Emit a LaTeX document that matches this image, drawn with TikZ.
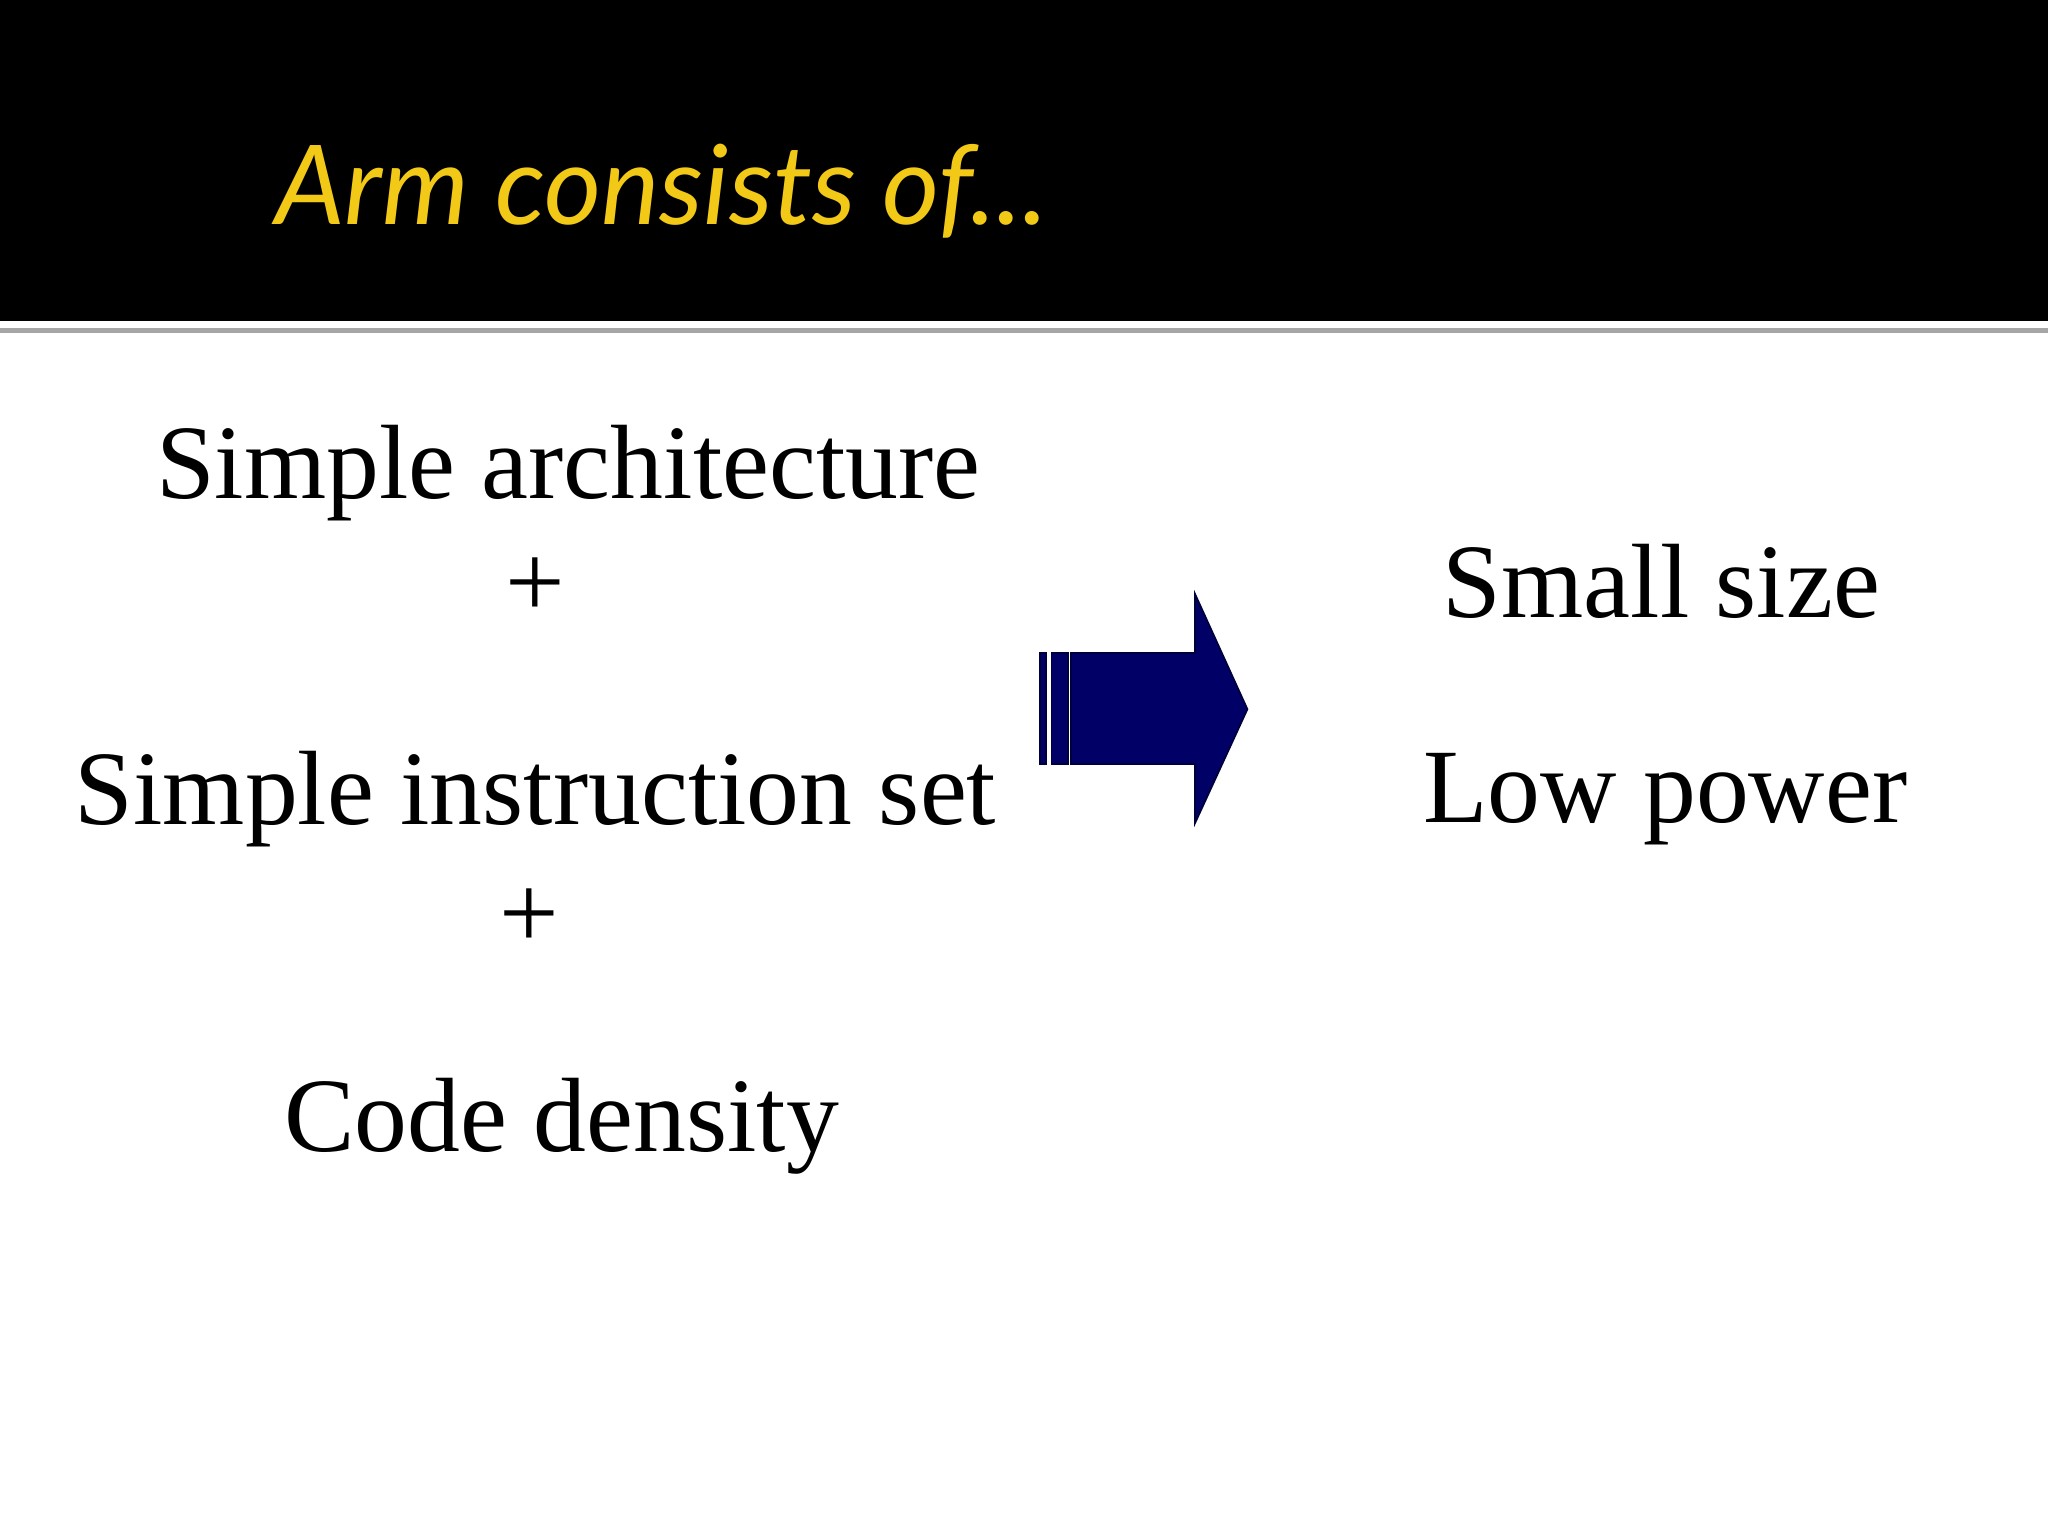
\documentclass[tikz,border=0pt]{standalone}
\usepackage{fontspec}
\setmainfont{Liberation Serif}
\newfontfamily\titlefont{Lato}
\definecolor{navyarrow}{HTML}{000066}
\definecolor{titleyellow}{HTML}{F2C916}
\begin{document}
\begin{tikzpicture}[x=0.01cm,y=-0.01cm,
  body/.style={font=\fontsize{23}{26}\selectfont,text=black,inner sep=0pt,anchor=center},
  bar/.style={fill=navyarrow,draw=navyarrow!60!black,line width=0.4pt}]
\useasboundingbox (0,0) rectangle (1568,1176);
\fill[white] (0,0) rectangle (1568,1176);
\fill[black] (0,0) rectangle (1568,246);
\fill[gray!70] (0,251) rectangle (1568,255);
\node[anchor=base west,inner sep=0pt,text=titleyellow,font=\titlefont\itshape\fontsize{24}{28}\selectfont] (title) at (210,172) {Arm consists of...};
\node[body] (a) at (435,362) {Simple architecture};
\node[body] (p1) at (410,450) {+};
\node[body] (b) at (410,612) {Simple instruction set};
\node[body] (p2) at (405,703) {+};
\node[body] (c) at (430,862) {Code density};
\node[body] (s) at (1272,445) {Small size};
\node[body] (l) at (1275,612) {Low power};
\draw[bar] (796,500) rectangle (801,585);
\draw[bar] (805,500) rectangle (818,585);
\draw[bar] (820,500) -- (915,500) -- (915,455) -- (955,543) -- (915,630) -- (915,585) -- (820,585) -- cycle;
\end{tikzpicture}
\end{document}
